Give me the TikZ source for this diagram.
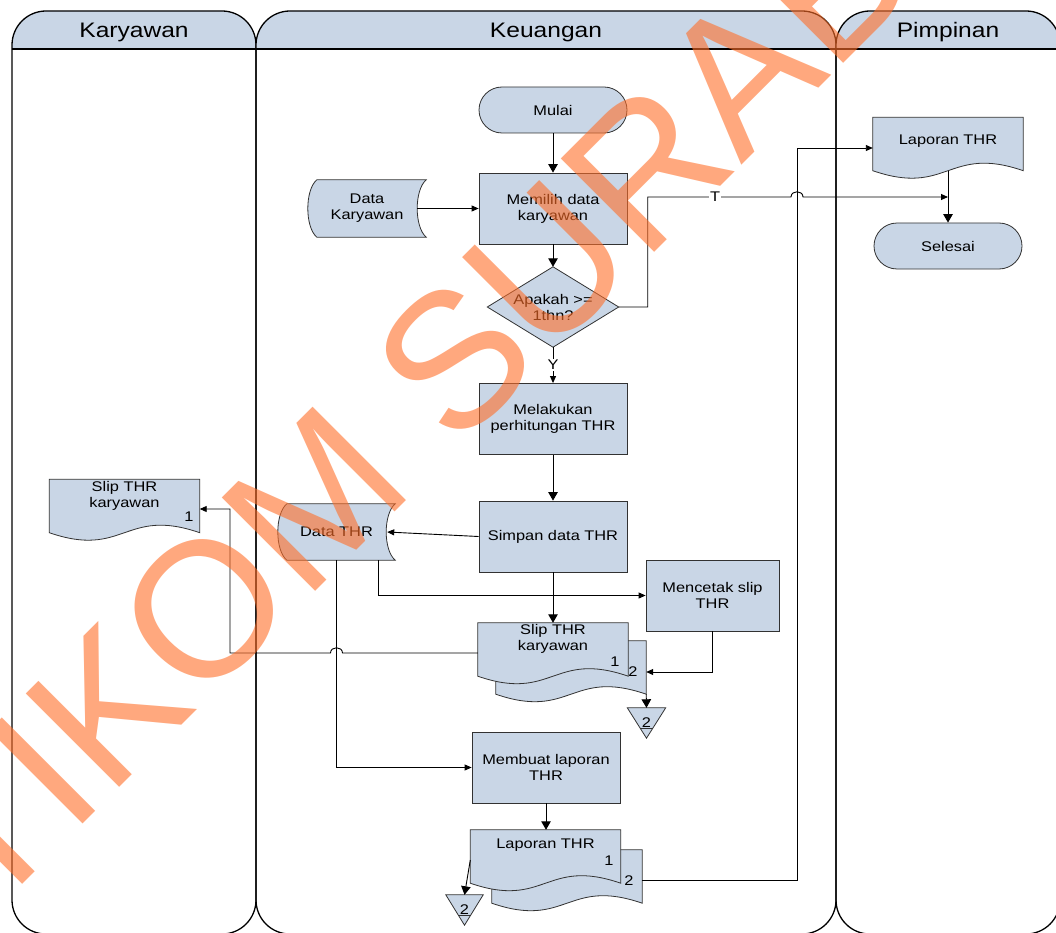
\documentclass[tikz,border=0pt]{standalone}
\usepackage{fontspec}
\setmainfont{Liberation Sans}
\newfontfamily\dfont[FakeStretch=1.17]{Liberation Sans}
\newfontfamily\wmfont{Liberation Sans}
\usetikzlibrary{arrows.meta,calc}

\definecolor{shapefill}{RGB}{201,214,230}
\definecolor{shapeline}{RGB}{50,50,50}
\definecolor{wmorange}{RGB}{255,110,40}

\pgfdeclarelayer{lanes}
\pgfdeclarelayer{shp}
\pgfdeclarelayer{wmk}
\pgfsetlayers{lanes,shp,main,wmk}

\tikzset{
  bigtip/.tip={Triangle[length=8.5pt,width=9.5pt]},
  smtip/.tip={Triangle[length=7pt,width=6pt]},
  lanebord/.style={draw=black, line width=1.3pt},
  shapebox/.style={draw=shapeline, fill=shapefill, line width=0.8pt},
  procbox/.style={rectangle, draw=shapeline, fill=shapefill, line width=0.8pt,
    minimum width=148pt, minimum height=71pt, inner sep=0pt, align=center},
  termbox/.style={procbox, minimum height=46pt, rounded corners=23pt},
  shapeframe/.style={rectangle, draw=none, inner sep=0pt, align=center},
  docbox/.style={shapeframe, minimum width=150pt, minimum height=53pt},
  txt/.style={inner sep=0pt, align=center},
  lbl/.style={inner sep=1pt, fill=white},
  hdr/.style={inner sep=0pt, font=\dfont\fontsize{21}{24}\selectfont},
  conn/.style={draw=black, line width=0.9pt},
  wm/.style={inner sep=0pt, anchor=base west, rotate=45, text=wmorange,
    text opacity=0.6, font=\wmfont\fontsize{192}{192}\selectfont}
}

% swimlane with a tab-shaped header
\newcommand\lane[4]{%
  \begin{scope}
    \clip (#1,0) rectangle (#2,49);
    \fill[shapefill, rounded corners=34pt] (#1,500) -- (#1,11) -- (#2,11) -- (#2,934) -- (#1,934) -- cycle;
  \end{scope}
  \draw[lanebord, rounded corners=34pt] (#1,500) -- (#1,11) -- (#2,11) -- (#2,934) -- (#1,934) -- cycle;
  \draw[lanebord] (#1,49) -- (#2,49);
  \node[hdr] (#3) at ({(#1+#2)/2},32) {#4};
}

% document symbol with wavy bottom edge
\newcommand\drawdoc[1]{%
  \path[shapebox] (#1.north west) -- (#1.north east) -- (#1.south east)
    .. controls ($(#1.south)+(0,-26)$) and ($(#1.south)+(0,26)$) .. (#1.south west) -- cycle;}

% stored data symbol: convex left side, concave right side
\newcommand\drawstored[3]{%
  \path[shapebox] ($(#1.north west)+(#2,0)$) -- (#1.north east)
    .. controls ($(#1.north east)+({-4/3*#2},{0.18*#3})$) and ($(#1.south east)+({-4/3*#2},{-0.18*#3})$) .. (#1.south east)
    -- ($(#1.south west)+(#2,0)$)
    .. controls ($(#1.south west)+({-#2/3},{-0.18*#3})$) and ($(#1.north west)+({-#2/3},{0.18*#3})$) .. ($(#1.north west)+(#2,0)$) -- cycle;}

% off-page connector (inverted triangle with a bar)
\newcommand\drawoff[1]{%
  \path[shapebox] (#1.north west) -- (#1.north east) -- (#1.south) -- cycle;
  \draw[draw=shapeline, line width=0.8pt] ($(#1.north west)!0.667!(#1.south)$) -- ($(#1.north east)!0.667!(#1.south)$);}

\begin{document}
\begin{tikzpicture}[x=1pt, y=-1pt, every node/.style={font=\dfont\fontsize{14}{16}\selectfont}]
\useasboundingbox (0,0) rectangle (1056,933);

% ---------- lanes ----------
\begin{pgfonlayer}{lanes}
  \lane{12}{256}{laneK}{Karyawan}
  \lane{256}{836}{laneU}{Keuangan}
  \lane{836}{1060}{laneP}{Pimpinan}
\end{pgfonlayer}

% ---------- Keuangan ----------
\node[termbox] (mulai) at (553,110) {Mulai};
\node[procbox] (memilih) at (553,208.5) {Memilih data\\karyawan};
\node[shapeframe, minimum width=118pt, minimum height=57pt] (dkary) at (367,208.5) {Data\\Karyawan};
\node[shapeframe, minimum width=131pt, minimum height=80pt] (cek) at (553,307) {Apakah >=\\1thn?};
\node[procbox] (hitung) at (553,419) {Melakukan\\perhitungan THR};
\node[procbox] (simpan) at (553,536.5) {Simpan data THR};
\node[shapeframe, minimum width=117pt, minimum height=56pt] (dthr) at (336.5,532) {Data THR};
\node[procbox, minimum width=133pt] (cetak) at (712.5,595.5) {Mencetak slip\\THR};
\node[docbox] (slipB) at (571,667.5) {};
\node[docbox] (slipF) at (553,649.5) {};
\node[shapeframe, minimum width=38pt, minimum height=30pt] (off1) at (646.5,723) {2};
\node[procbox] (buat) at (546,767.5) {Membuat laporan\\THR};
\node[docbox] (lapB) at (567,876.5) {};
\node[docbox] (lapF) at (545.5,856.5) {};
\node[shapeframe, minimum width=37pt, minimum height=30pt] (off2) at (464.5,910) {2};

% ---------- Karyawan ----------
\node[docbox] (slipK) at (124.5,506) {};

% ---------- Pimpinan ----------
\node[docbox] (lapP) at (948,144) {};
\node[termbox] (selesai) at (948,246) {Selesai};

% document texts
\node[txt] (slipKt) at (124.5,495.5) {Slip THR\\karyawan};
\node[txt] (slipKn) at (189,517) {1};
\node[txt] (slipFt) at (553,639) {Slip THR\\karyawan};
\node[txt] (slipFn) at (615,662) {1};
\node[txt] (slipBn) at (633,672) {2};
\node[txt] (lapFt) at (545.5,845.5) {Laporan THR};
\node[txt] (lapFn) at (609,861) {1};
\node[txt] (lapBn) at (629,881) {2};
\node[txt] (lapPt) at (948,141.5) {Laporan THR};

% symbol outlines
\begin{pgfonlayer}{shp}
  \drawstored{dkary}{9}{57}
  \drawstored{dthr}{9}{56}
  \path[shapebox] (cek.north) -- (cek.east) -- (cek.south) -- (cek.west) -- cycle;
  \drawdoc{slipB}
  \drawdoc{slipF}
  \drawdoc{lapB}
  \drawdoc{lapF}
  \drawdoc{slipK}
  \drawdoc{lapP}
  \drawoff{off1}
  \drawoff{off2}
\end{pgfonlayer}

% ---------- connectors ----------
\coordinate (tRow) at (700,197);
\coordinate (jx) at (797,860);
\coordinate (kturn) at (230,509);

\draw[conn,-bigtip] (mulai.south) -- (memilih.north);
\draw[conn,-bigtip] (memilih.south) -- (cek.north);
\draw[conn,-smtip] ([xshift=-9pt]dkary.east) -- (memilih.west);
\draw[conn,-smtip] (cek.east) -- ++(29,0) |- ($(jx |- tRow)+(-6,0)$)
  .. controls +(0,-7) and +(0,-7) .. ($(jx |- tRow)+(6,0)$) -- (lapP.south |- tRow);
\node[lbl] (tlbl) at (715,197) {T};
\draw[conn,-smtip] (cek.south) -- (hitung.north) node[lbl, midway] (ylbl) {Y};
\draw[conn,-bigtip] (hitung.south) -- (simpan.north);
\draw[conn,-smtip] (simpan.west) -- ([xshift=-8pt]dthr.east);
\draw[conn,-smtip] ([xshift=41.5pt]dthr.south) |- (cetak.west);
\draw[conn,-bigtip] (simpan.south) -- (slipF.north);
\draw[conn,-smtip] (cetak.south) |- ([yshift=-4.5pt]slipB.east);
\draw[conn,-bigtip] (slipB.south east) -- (off1.north);
\coordinate (slipOut) at ([yshift=-3.5pt]slipF.west);
\draw[conn,-smtip] (slipOut) -- ($(dthr.south |- slipOut)+(6,0)$)
  .. controls +(0,-7) and +(0,-7) .. ($(dthr.south |- slipOut)+(-6,0)$)
  -- (kturn |- slipOut) |- ([yshift=-3pt]slipK.east);
\draw[conn,-smtip] (dthr.south) |- (buat.west);
\draw[conn,-bigtip] (buat.south) -- (buat.south |- lapF.north);
\draw[conn,-bigtip] ([yshift=-3.5pt]lapF.west) -- (off2.north);
\draw[conn,-smtip] ([yshift=-4pt]lapB.east) -| (jx) |- ([yshift=-4pt]lapP.west);
\draw[conn,-bigtip] (lapP.south) -- (selesai.north);

% ---------- watermark ----------
\begin{pgfonlayer}{wmk}
  \node[wm] (stamp) at (-103,1010) {STIKOM SURABAYA};
\end{pgfonlayer}
\end{tikzpicture}
\end{document}
